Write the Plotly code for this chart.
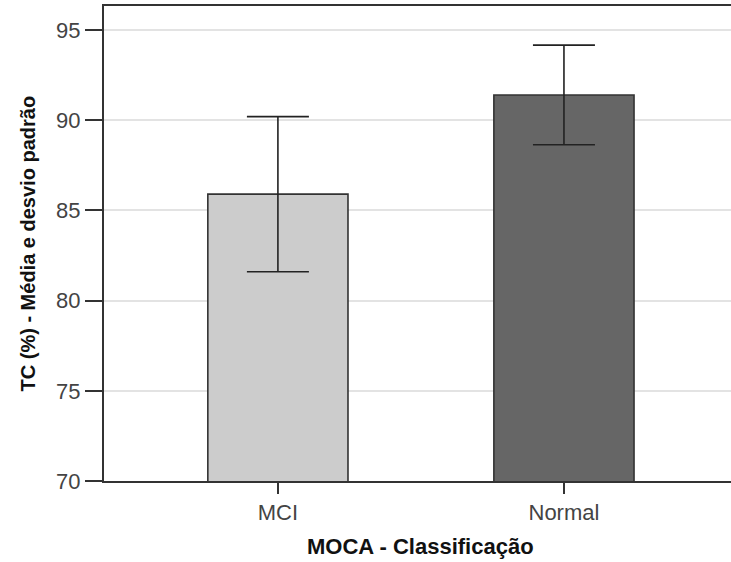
import plotly.graph_objects as go

categories = ["MCI", "Normal"]
means = [85.9, 91.4]
sd = [4.3, 2.76]
bar_colors = ["#cccccc", "#666666"]
y_ticks = [70, 75, 80, 85, 90, 95]

fig = go.Figure()
fig.add_trace(go.Bar(
    x=[0, 1],
    y=means,
    width=0.49,
    marker=dict(color=bar_colors, line=dict(color="#333333", width=1.6)),
    error_y=dict(type="data", array=sd, visible=True, color="#222222",
                 thickness=1.6, width=31),
    showlegend=False,
))

fig.update_layout(
    width=731, height=562,
    margin=dict(l=104, r=0, t=6, b=81),
    paper_bgcolor="white", plot_bgcolor="white",
    font=dict(family="Liberation Sans, Arial, sans-serif", color="#444444", size=20),
    xaxis=dict(
        range=[-0.608, 1.584],
        tickvals=[0, 1], ticktext=categories,
        showline=True, linecolor="#333333", linewidth=2, mirror=True,
        ticks="outside", ticklen=11, tickcolor="#333333", tickwidth=1.5,
        showgrid=False, zeroline=False,
        tickfont=dict(size=22, color="#444444"),
    ),
    yaxis=dict(
        range=[70, 96.33],
        tickvals=y_ticks,
        showline=True, linecolor="#333333", linewidth=2,
        ticks="outside", ticklen=17, tickcolor="#333333", tickwidth=1.5,
        showgrid=True, gridcolor="#e3e3e3", gridwidth=1.5,
        zeroline=False,
        tickfont=dict(size=22, color="#444444"),
    ),
    annotations=[
        dict(text="<b>MOCA - Classificação</b>", xref="paper", yref="paper",
             x=0.505, y=0, yshift=-65, xanchor="center", yanchor="middle",
             showarrow=False, font=dict(size=22, color="#111111")),
        dict(text="<b>TC (%) - Média e desvio padrão</b>", xref="paper", yref="paper",
             x=0, xshift=-77, y=0.5, xanchor="center", yanchor="middle",
             textangle=-90, showarrow=False, font=dict(size=20, color="#111111")),
    ],
)

fig.write_html("out.html", config={"displayModeBar": False},
               post_script="document.body.style.margin='0';document.body.style.overflow='hidden';")
